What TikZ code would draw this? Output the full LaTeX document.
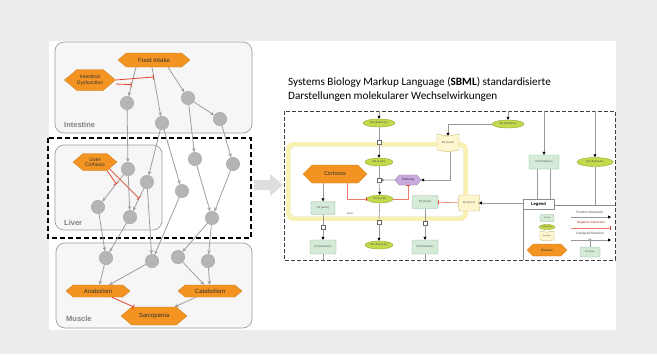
\documentclass[tikz,border=0pt]{standalone}
\usepackage{fontspec}
\setmainfont{Liberation Sans}
\newfontfamily\titlefont{Carlito}
\usetikzlibrary{arrows.meta,shapes.geometric,shapes.symbols}

\definecolor{bggrey}{HTML}{EDEDED}
\definecolor{boxgrey}{HTML}{F6F6F6}
\definecolor{linegrey}{HTML}{9E9E9E}
\definecolor{dotgrey}{HTML}{B5B5B5}
\definecolor{orng}{HTML}{F29322}
\definecolor{inhred}{HTML}{E2452F}
\definecolor{protgreen}{HTML}{D5EBD8}
\definecolor{protline}{HTML}{8DB894}
\definecolor{metgreen}{HTML}{C4D94C}
\definecolor{metline}{HTML}{93A82A}
\definecolor{recyellow}{HTML}{FDF6CF}
\definecolor{recline}{HTML}{C9B96A}
\definecolor{pathpurple}{HTML}{C9AADF}
\definecolor{cmpyellow}{HTML}{F9F1B2}
\definecolor{cmpline}{HTML}{E6D987}

\tikzset{
  organ/.style={draw=linegrey, fill=boxgrey, rounded corners=9pt, line width=.7pt},
  organlabel/.style={anchor=west, inner sep=0pt, text=gray, font=\bfseries\fontsize{7.5}{8}\selectfont},
  dot/.style={circle, draw=linegrey, fill=dotgrey, line width=.3pt, minimum size=13.5pt, inner sep=0pt},
  hexa/.style={signal, signal to=west and east, signal pointer angle=80, draw=orng!85!black,
    line width=.3pt, fill=orng, inner sep=0pt, align=center, text=black!80,
    font=\fontsize{6}{6.5}\selectfont},
  flow/.style={draw=linegrey, line width=.8pt, -{Stealth[length=4pt,width=3.5pt]}},
  inh/.style={draw=inhred, line width=.8pt, -{Bar[width=5pt]}},
  % SBML styles
  tinytext/.style={font=\fontsize{2.8}{3}\selectfont, text=black!70},
  prot/.style={draw=protline, fill=protgreen, rounded corners=1.2pt, line width=.4pt,
    minimum width=26pt, minimum height=13pt, inner sep=0pt, tinytext},
  metab/.style={ellipse, draw=metline, fill=metgreen, line width=.4pt,
    minimum width=28pt, minimum height=8pt, inner sep=0pt, tinytext},
  recep/.style={signal, signal pointer angle=160, draw=recline, fill=recyellow,
    line width=.4pt, minimum width=22pt, minimum height=16pt, inner sep=0pt, tinytext},
  proc/.style={draw=black!60, fill=white, line width=.4pt, minimum size=4pt, inner sep=0pt},
  sarr/.style={draw=black!40, line width=.6pt, -{Triangle[length=3pt,width=3pt,color=black]}},
  sline/.style={draw=black!40, line width=.6pt},
  sinh/.style={draw=inhred!70, line width=.6pt, -{Bar[width=4pt,color=inhred]}},
  scat/.style={draw=black!40, line width=.6pt, -{Circle[open,length=2.5pt,color=black!60]}},
}

\begin{document}
\begin{tikzpicture}[x=1pt,y=-1pt]
\useasboundingbox (0,0) rectangle (657,354);
\fill[bggrey] (0,0) rectangle (657,354);
\fill[white] (49,41) rectangle (616,330);

% ---------- organ model (left)
\draw[organ] (55,42) rectangle (252,133);
\draw[organ] (56,243) rectangle (252,328);
\draw[line width=1.3pt, dash pattern=on 5pt off 3pt] (48,138) rectangle (251,238);
\draw[organ] (55,145) rectangle (162,230);
\node[organlabel] at (64,125) {Intestine};
\node[organlabel] at (64,223) {Liver};
\node[organlabel] at (66,319) {Muscle};

\node[hexa, minimum width=72pt, minimum height=14pt] (food) at (154,60) {Food Intake};
\node[hexa, minimum width=50pt, minimum height=21pt, font=\fontsize{5}{5.5}\selectfont] (dys) at (90,80) {Intestinal\\Dysfunction};
\node[hexa, minimum width=44pt, minimum height=17pt, font=\fontsize{5}{5.5}\selectfont] (cirrL) at (95,162) {Liver\\Cirrhosis};
\node[hexa, minimum width=64pt, minimum height=12pt] (ana) at (98,291) {Anabolism};
\node[hexa, minimum width=64pt, minimum height=12pt] (cata) at (210,291) {Catabolism};
\node[hexa, minimum width=66pt, minimum height=18pt] (sarc) at (154,316) {Sarcopenia};

\foreach \n/\x/\y in {i1/127/103, i2/162/123, i3/188/98, i4/220/119,
    l1/128/169, l2/147/182, l3/195/159, l4/233/164, l5/182/191,
    l6/98/207, l7/130/217, l8/212/218,
    m1/106/258, m2/152/261, m3/178/257, m4/208/261}
  \node[dot] (\n) at (\x,\y) {};

\draw[flow] ([xshift=-18pt]food.south) -- (i1) coordinate[pos=.6] (x1);
\draw[flow] ([xshift=-2pt]food.south) -- (i2) coordinate[pos=.2] (x2);
\draw[flow] ([xshift=14pt]food.south) -- (i3);
\foreach \a/\b in {i3/i4, i1/l1, i2/l2, i2/l5, i3/l3, i4/l4, l1/l7, l3/l8, l4/l8,
    l6/m1, l7/m1, l2/m2, l5/m2, l8/m3, l8/m4, m1/ana, m2/ana, m3/cata, m4/cata, cata/sarc}
  \draw[flow] (\a) -- (\b);
\draw[flow] (l1) -- (l6) coordinate[pos=.35] (y1);
\draw[flow] (l2) -- (l7) coordinate[pos=.45] (y2);

\draw[inh] (dys.east) -- (x2);
\draw[inh] ([yshift=-4pt]dys.east) -- (x1);
\draw[inh] (cirrL.-35) -- (y1);
\draw[inh] (cirrL.-25) -- (y2);
\draw[inh] (ana) -- (sarc);

% arrow between the two halves
\fill[black!13] (254,180) -- (270,180) -- (270,174) -- (283,185) -- (270,196) -- (270,190) -- (254,190) -- cycle;

% ---------- SBML network (right)
\node[anchor=north west, align=left, inner sep=0pt, font=\titlefont\fontsize{11.2}{14}\selectfont]
  (title) at (288,77) {Systems Biology Markup Language (\textbf{SBML}) standardisierte\\Darstellungen molekularer Wechselwirkungen};

\draw[black!75, line width=.7pt, dash pattern=on 4pt off 2pt] (284,111) rectangle (615,260);
\draw[cmpyellow, line width=4pt, rounded corners=6pt] (288,144) rectangle (466,219);
\draw[cmpline, line width=.4pt, rounded corners=4pt] (290.5,146.5) rectangle (463.5,216.5);
\node[tinytext] (cmp) at (350,213) {Liver};

\node[metab, minimum width=32pt] (m1e) at (379,123) {M1 (Extracel.)};
\node[proc] (s1) at (379,142) {};
\node[metab] (m1l) at (379,162) {M1 (Liver)};
\node[proc] (s2) at (379,180) {};
\node[metab, minimum width=26pt] (m2l) at (380,199) {M2 (Liver)};
\node[proc] (s3) at (379,222) {};
\node[metab] (m2e) at (379,245) {M2 (Extracel.)};

\node[hexa, signal pointer angle=90, minimum width=64pt, minimum height=18pt,
  font=\fontsize{5.5}{6}\selectfont] (cirr) at (335,174) {Cirrhosis};
\node[hexa, signal pointer angle=100, draw=pathpurple!70!black, fill=pathpurple, minimum width=26pt,
  minimum height=10pt, font=\fontsize{3.2}{3.5}\selectfont] (path) at (408,180) {Pathway};

\node[recep, signal to=south, signal from=north] (r1) at (448,143) {R1 (Liver)};
\node[recep, signal to=west, signal from=east] (r2) at (469,203) {R2 (Liver)};
\node[metab, minimum width=32pt] (m3e) at (508,124) {M3 (Extracel.)};
\node[prot, minimum width=30pt, minimum height=14pt] (p2e) at (544,162) {P2 (Extracel.)};
\node[metab, minimum width=36pt, minimum height=9pt] (m4e) at (595,162) {M4 (Extracel.)};

\node[prot, minimum width=24pt] (p4l) at (323,208) {P4 (Liver)};
\node[prot] (p3l) at (425,202) {P3 (Liver)};
\node[proc] (s4) at (323,227) {};
\node[proc] (s5) at (425,223) {};
\node[prot, minimum height=14pt] (p4e) at (323,247) {P4 (Extracel.)};
\node[prot, minimum height=14pt] (p3e) at (425,247) {P3 (Extracel.)};

\foreach \c in {m1e, m3e, p2e, m4e}
  \draw[sarr] (\c |- 0,111) -- (\c);
\draw[sline] (m1e) -- (s1);
\draw[sarr] (s1) -- (m1l);
\draw[sline] (m1l) -- (s2);
\draw[sarr] (s2) -- (m2l);
\draw[sline] (m2l) -- (s3);
\draw[sarr] (s3) -- (m2e);
\draw[scat] (path) -- (s2);
\draw[sinh] ([xshift=12pt]cirr.south) |- (m2l);
\draw[sinh] (m2l.east) -| (path.south);
\draw[sarr] (m3e.west) -| (r1.north);
\draw[sarr] ([xshift=2pt]r1.south) |- (path.east);
\draw[sarr] (p4l |- cirr.south) -- (p4l);
\draw[sline] (p4l) -- (s4);
\draw[sarr] (s4) -- (p4e);
\draw[sline] (p3l) -- (s5);
\draw[sarr] (s5) -- (p3e);
\draw[sinh] (r2) -- (p3l);
\draw[sarr] ([xshift=-7pt]p2e.south) |- (r2.east);
\draw[sline] ([xshift=6pt]p2e.south) -- ++(0,45);
\draw[sline] (m4e) -- ++(0,45);
\draw[sline] (p4e) -- (p4e |- 0,260);
\draw[sline] (p3e) -- (p3e |- 0,260);

% legend
\fill[white] (523,205) rectangle (615,260);
\draw[black!45, line width=.5pt] (554,205) -- (615,205) (523,209) -- (523,260);
\node[draw=black!45, fill=white, line width=.5pt, minimum width=31pt, minimum height=10pt, inner sep=0pt,
  font=\bfseries\fontsize{4.2}{4.5}\selectfont] (leg) at (538.5,204) {Legend};
\node[prot, minimum width=14pt, minimum height=7pt, font=\fontsize{2}{2}\selectfont] (lp) at (547,218) {Protein};
\node[metab, minimum width=16pt, minimum height=5pt, font=\fontsize{2}{2}\selectfont] (lm) at (547,227) {Metabolite};
\node[recep, signal to=south, signal from=north, minimum width=14pt, minimum height=9pt,
  font=\fontsize{2}{2}\selectfont] (lr) at (547,236) {Receptor};
\node[hexa, signal pointer angle=90, minimum width=40pt, minimum height=12pt,
  font=\fontsize{3.2}{3.5}\selectfont] (ld) at (547,250) {Disease};
\node[tinytext, font=\fontsize{3.2}{3.5}\selectfont] (lpos) at (590,212) {Positive Interaction};
\node[tinytext, font=\fontsize{3.2}{3.5}\selectfont, text=inhred!80!black] (lneg) at (591,223) {Negative Interaction};
\node[tinytext, font=\fontsize{3.2}{3.5}\selectfont] (lcat) at (590,234) {Catalyzed Reaction};
\node[prot, minimum width=20pt, minimum height=10pt, font=\fontsize{2.5}{2.5}\selectfont] (le) at (590,252) {Enzyme};
\coordinate (a1) at (571,217); \coordinate (a2) at (611,217);
\coordinate (b1) at (571,228); \coordinate (b2) at (611,228);
\coordinate (c1) at (571,240); \coordinate (c2) at (611,240);
\coordinate (cc) at (590,240);
\draw[sarr] (a1) -- (a2);
\draw[sinh] (b1) -- (b2);
\draw[sarr] (c1) -- (c2);
\draw[sline] (le) -- (cc);
\draw[black!60, fill=white, line width=.4pt] (cc) circle (1.3pt);
\end{tikzpicture}
\end{document}
